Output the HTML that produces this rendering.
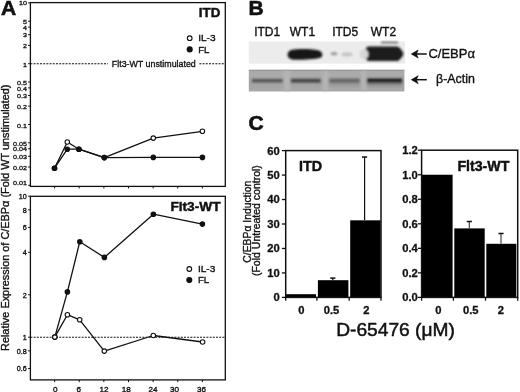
<!DOCTYPE html>
<html><head><meta charset="utf-8"><title>Figure</title>
<style>
html,body{margin:0;padding:0;background:#fff;overflow:hidden;}
svg{display:block;}
svg text{font-family:"Liberation Sans", Arial, sans-serif;fill:#111;}
svg text.t{stroke:#111;stroke-width:0.35px;}
svg text.b{stroke:#111;stroke-width:0.3px;}
svg text.h{stroke:#111;stroke-width:0.45px;}
svg text.pl{stroke:#111;stroke-width:0.6px;}
svg text.t2{stroke:#111;stroke-width:0.5px;}
</style></head>
<body>
<svg width="520" height="392" viewBox="0 0 520 392">
<text x="0.9" y="15.3" font-size="21" font-weight="bold" class="pl">A</text>
<rect x="30.4" y="2.6" width="194.9" height="183.8" fill="none" stroke="#111" stroke-width="1.3"/>
<line x1="28.099999999999998" x2="30.4" y1="2.9" y2="2.9" stroke="#111" stroke-width="1"/>
<text transform="translate(27,4.8) scale(1,0.86)" font-size="7.2" text-anchor="end" class="t">10</text>
<line x1="28.099999999999998" x2="30.4" y1="21.2" y2="21.2" stroke="#111" stroke-width="1"/>
<text transform="translate(27,24.2) scale(1,0.86)" font-size="7.2" text-anchor="end" class="t">5</text>
<line x1="28.099999999999998" x2="30.4" y1="27.09" y2="27.09" stroke="#111" stroke-width="1"/>
<text transform="translate(27,29.59) scale(1,0.86)" font-size="7.2" text-anchor="end" class="t">4</text>
<line x1="28.099999999999998" x2="30.4" y1="34.69" y2="34.69" stroke="#111" stroke-width="1"/>
<text transform="translate(27,37.49) scale(1,0.86)" font-size="7.2" text-anchor="end" class="t">3</text>
<line x1="28.099999999999998" x2="30.4" y1="45.4" y2="45.4" stroke="#111" stroke-width="1"/>
<text transform="translate(27,48.2) scale(1,0.86)" font-size="7.2" text-anchor="end" class="t">2</text>
<line x1="28.099999999999998" x2="30.4" y1="63.7" y2="63.7" stroke="#111" stroke-width="1"/>
<text transform="translate(27,66.5) scale(1,0.86)" font-size="7.2" text-anchor="end" class="t">1</text>
<line x1="28.099999999999998" x2="30.4" y1="82" y2="82" stroke="#111" stroke-width="1"/>
<text transform="translate(27,85.3) scale(1,0.86)" font-size="7.2" text-anchor="end" class="t">0.5</text>
<line x1="28.099999999999998" x2="30.4" y1="87.89" y2="87.89" stroke="#111" stroke-width="1"/>
<text transform="translate(27,90.69) scale(1,0.86)" font-size="7.2" text-anchor="end" class="t">0.4</text>
<line x1="28.099999999999998" x2="30.4" y1="95.49" y2="95.49" stroke="#111" stroke-width="1"/>
<text transform="translate(27,98.29) scale(1,0.86)" font-size="7.2" text-anchor="end" class="t">0.3</text>
<line x1="28.099999999999998" x2="30.4" y1="106.2" y2="106.2" stroke="#111" stroke-width="1"/>
<text transform="translate(27,109) scale(1,0.86)" font-size="7.2" text-anchor="end" class="t">0.2</text>
<line x1="28.099999999999998" x2="30.4" y1="124.5" y2="124.5" stroke="#111" stroke-width="1"/>
<text transform="translate(27,127.9) scale(1,0.86)" font-size="7.2" text-anchor="end" class="t">0.1</text>
<line x1="28.099999999999998" x2="30.4" y1="142.8" y2="142.8" stroke="#111" stroke-width="1"/>
<text transform="translate(27,145.6) scale(1,0.86)" font-size="7.2" text-anchor="end" class="t">0.05</text>
<line x1="28.099999999999998" x2="30.4" y1="148.69" y2="148.69" stroke="#111" stroke-width="1"/>
<text transform="translate(27,151.49) scale(1,0.86)" font-size="7.2" text-anchor="end" class="t">0.04</text>
<line x1="28.099999999999998" x2="30.4" y1="156.29" y2="156.29" stroke="#111" stroke-width="1"/>
<text transform="translate(27,159.09) scale(1,0.86)" font-size="7.2" text-anchor="end" class="t">0.03</text>
<line x1="28.099999999999998" x2="30.4" y1="167" y2="167" stroke="#111" stroke-width="1"/>
<text transform="translate(27,169.8) scale(1,0.86)" font-size="7.2" text-anchor="end" class="t">0.02</text>
<line x1="28.099999999999998" x2="30.4" y1="185.3" y2="185.3" stroke="#111" stroke-width="1"/>
<text transform="translate(27,185.4) scale(1,0.86)" font-size="7.2" text-anchor="end" class="t">0.01</text>
<line x1="54.6" x2="54.6" y1="186.4" y2="188.4" stroke="#111" stroke-width="1"/>
<line x1="79.23" x2="79.23" y1="186.4" y2="188.4" stroke="#111" stroke-width="1"/>
<line x1="103.86" x2="103.86" y1="186.4" y2="188.4" stroke="#111" stroke-width="1"/>
<line x1="128.49" x2="128.49" y1="186.4" y2="188.4" stroke="#111" stroke-width="1"/>
<line x1="153.12" x2="153.12" y1="186.4" y2="188.4" stroke="#111" stroke-width="1"/>
<line x1="177.75" x2="177.75" y1="186.4" y2="188.4" stroke="#111" stroke-width="1"/>
<line x1="202.38" x2="202.38" y1="186.4" y2="188.4" stroke="#111" stroke-width="1"/>
<line x1="30.4" x2="108" y1="63.7" y2="63.7" stroke="#111" stroke-width="1.1" stroke-dasharray="2,1.2"/>
<line x1="199.4" x2="225.3" y1="63.7" y2="63.7" stroke="#111" stroke-width="1.1" stroke-dasharray="2,1.2"/>
<text x="111.8" y="66.6" font-size="9.6" textLength="84" lengthAdjust="spacingAndGlyphs" class="t">Flt3-WT unstimulated</text>
<text x="198.8" y="17.4" font-size="13.4" font-weight="bold" class="h">ITD</text>
<circle cx="189.7" cy="38.2" r="2.35" fill="#fff" stroke="#111" stroke-width="1.1"/>
<text x="198.2" y="41.1" font-size="9.7" class="t" textLength="17.4" lengthAdjust="spacingAndGlyphs">IL-3</text>
<circle cx="189.7" cy="49.4" r="3.05" fill="#111"/>
<text x="198.2" y="52.6" font-size="9.7" class="t" textLength="11.2" lengthAdjust="spacingAndGlyphs">FL</text>
<polyline points="54.5,168.2 67.3,142 78.9,149.2 104.3,157.6 153.3,138.1 202.4,131.3" fill="none" stroke="#111" stroke-width="1.3" stroke-linejoin="round"/>
<polyline points="54.5,168.2 67.3,149.2 78.9,149.2 104.3,157.6 153.3,157.4 202.4,157.4" fill="none" stroke="#111" stroke-width="1.3" stroke-linejoin="round"/>
<circle cx="54.5" cy="168.2" r="2.25" fill="#fff" stroke="#111" stroke-width="1.1"/>
<circle cx="67.3" cy="142" r="2.25" fill="#fff" stroke="#111" stroke-width="1.1"/>
<circle cx="78.9" cy="149.2" r="2.25" fill="#fff" stroke="#111" stroke-width="1.1"/>
<circle cx="104.3" cy="157.6" r="2.25" fill="#fff" stroke="#111" stroke-width="1.1"/>
<circle cx="153.3" cy="138.1" r="2.25" fill="#fff" stroke="#111" stroke-width="1.1"/>
<circle cx="202.4" cy="131.3" r="2.25" fill="#fff" stroke="#111" stroke-width="1.1"/>
<circle cx="54.5" cy="168.2" r="2.8" fill="#111"/>
<circle cx="67.3" cy="149.2" r="2.8" fill="#111"/>
<circle cx="78.9" cy="149.2" r="2.8" fill="#111"/>
<circle cx="104.3" cy="157.6" r="2.8" fill="#111"/>
<circle cx="153.3" cy="157.4" r="2.8" fill="#111"/>
<circle cx="202.4" cy="157.4" r="2.8" fill="#111"/>
<rect x="30.4" y="196.3" width="194.9" height="183.59999999999997" fill="none" stroke="#111" stroke-width="1.3"/>
<line x1="28.099999999999998" x2="30.4" y1="196.2" y2="196.2" stroke="#111" stroke-width="1"/>
<text transform="translate(26.8,199.2) scale(0.95,0.92)" font-size="7.6" text-anchor="end" class="t">10</text>
<line x1="28.099999999999998" x2="30.4" y1="209.86" y2="209.86" stroke="#111" stroke-width="1"/>
<text transform="translate(26.8,212.86) scale(0.95,0.92)" font-size="7.6" text-anchor="end" class="t">8</text>
<line x1="28.099999999999998" x2="30.4" y1="227.48" y2="227.48" stroke="#111" stroke-width="1"/>
<text transform="translate(26.8,230.48) scale(0.95,0.92)" font-size="7.6" text-anchor="end" class="t">6</text>
<line x1="28.099999999999998" x2="30.4" y1="252.31" y2="252.31" stroke="#111" stroke-width="1"/>
<text transform="translate(26.8,255.31) scale(0.95,0.92)" font-size="7.6" text-anchor="end" class="t">4</text>
<line x1="28.099999999999998" x2="30.4" y1="294.75" y2="294.75" stroke="#111" stroke-width="1"/>
<text transform="translate(26.8,297.75) scale(0.95,0.92)" font-size="7.6" text-anchor="end" class="t">2</text>
<line x1="28.099999999999998" x2="30.4" y1="337.2" y2="337.2" stroke="#111" stroke-width="1"/>
<text transform="translate(26.8,340.2) scale(0.95,0.92)" font-size="7.6" text-anchor="end" class="t">1</text>
<line x1="28.099999999999998" x2="30.4" y1="350.86" y2="350.86" stroke="#111" stroke-width="1"/>
<text transform="translate(26.8,353.86) scale(0.95,0.92)" font-size="7.6" text-anchor="end" class="t">0.8</text>
<line x1="28.099999999999998" x2="30.4" y1="368.48" y2="368.48" stroke="#111" stroke-width="1"/>
<text transform="translate(26.8,371.48) scale(0.95,0.92)" font-size="7.6" text-anchor="end" class="t">0.6</text>
<line x1="54.6" x2="54.6" y1="379.9" y2="382.09999999999997" stroke="#111" stroke-width="1"/>
<text x="55.2" y="392.2" font-size="8.1" text-anchor="middle" class="t">0</text>
<line x1="79.23" x2="79.23" y1="379.9" y2="382.09999999999997" stroke="#111" stroke-width="1"/>
<text x="78.8" y="392.2" font-size="8.1" text-anchor="middle" class="t">6</text>
<line x1="103.86" x2="103.86" y1="379.9" y2="382.09999999999997" stroke="#111" stroke-width="1"/>
<text x="104" y="392.2" font-size="8.1" text-anchor="middle" class="t">12</text>
<line x1="128.49" x2="128.49" y1="379.9" y2="382.09999999999997" stroke="#111" stroke-width="1"/>
<text x="126.3" y="392.2" font-size="8.1" text-anchor="middle" class="t">18</text>
<line x1="153.12" x2="153.12" y1="379.9" y2="382.09999999999997" stroke="#111" stroke-width="1"/>
<text x="153" y="392.2" font-size="8.1" text-anchor="middle" class="t">24</text>
<line x1="177.75" x2="177.75" y1="379.9" y2="382.09999999999997" stroke="#111" stroke-width="1"/>
<text x="174.6" y="392.2" font-size="8.1" text-anchor="middle" class="t">30</text>
<line x1="202.38" x2="202.38" y1="379.9" y2="382.09999999999997" stroke="#111" stroke-width="1"/>
<text x="201.5" y="392.2" font-size="8.1" text-anchor="middle" class="t">36</text>
<line x1="30.4" x2="225.3" y1="337.2" y2="337.2" stroke="#111" stroke-width="1.1" stroke-dasharray="2,1.2"/>
<text x="170.4" y="210.5" font-size="13.7" font-weight="bold" class="h">Flt3-WT</text>
<circle cx="189.3" cy="269.0" r="2.35" fill="#fff" stroke="#111" stroke-width="1.1"/>
<text x="197.9" y="272.2" font-size="9.7" class="t" textLength="17.4" lengthAdjust="spacingAndGlyphs">IL-3</text>
<circle cx="189.3" cy="280.1" r="3.05" fill="#111"/>
<text x="197.9" y="283.4" font-size="9.7" class="t" textLength="11.2" lengthAdjust="spacingAndGlyphs">FL</text>
<polyline points="54.8,337.1 67.4,291.9 79.8,241.7 104.4,257.4 153.4,214.2 202.4,224.1" fill="none" stroke="#111" stroke-width="1.3" stroke-linejoin="round"/>
<polyline points="54.8,337.1 67.4,314.7 79.7,319.8 104.3,351.1 153.3,335.5 202.6,342" fill="none" stroke="#111" stroke-width="1.3" stroke-linejoin="round"/>
<circle cx="54.8" cy="337.1" r="2.8" fill="#111"/>
<circle cx="67.4" cy="291.9" r="2.8" fill="#111"/>
<circle cx="79.8" cy="241.7" r="2.8" fill="#111"/>
<circle cx="104.4" cy="257.4" r="2.8" fill="#111"/>
<circle cx="153.4" cy="214.2" r="2.8" fill="#111"/>
<circle cx="202.4" cy="224.1" r="2.8" fill="#111"/>
<circle cx="54.8" cy="337.1" r="2.25" fill="#fff" stroke="#111" stroke-width="1.1"/>
<circle cx="67.4" cy="314.7" r="2.25" fill="#fff" stroke="#111" stroke-width="1.1"/>
<circle cx="79.7" cy="319.8" r="2.25" fill="#fff" stroke="#111" stroke-width="1.1"/>
<circle cx="104.3" cy="351.1" r="2.25" fill="#fff" stroke="#111" stroke-width="1.1"/>
<circle cx="153.3" cy="335.5" r="2.25" fill="#fff" stroke="#111" stroke-width="1.1"/>
<circle cx="202.6" cy="342" r="2.25" fill="#fff" stroke="#111" stroke-width="1.1"/>
<text transform="translate(9.0,217.8) rotate(-90)" font-size="10.9" text-anchor="middle" class="t">Relative Expression of C/EBPα (Fold WT unstimulated)</text>
<text x="248.5" y="15.2" font-size="21" font-weight="bold" class="pl">B</text>
<text x="254.2" y="35.8" font-size="12" class="t">ITD1</text>
<text x="289.8" y="35.8" font-size="12" class="t">WT1</text>
<text x="332.2" y="35.8" font-size="12" class="t">ITD5</text>
<text x="370.8" y="35.8" font-size="12" class="t">WT2</text>
<defs><filter id="bl" x="-30%" y="-80%" width="160%" height="260%"><feGaussianBlur stdDeviation="1.1"/></filter><filter id="bl2" x="-30%" y="-80%" width="160%" height="260%"><feGaussianBlur stdDeviation="0.9"/></filter><filter id="bl4" x="-30%" y="-200%" width="160%" height="500%"><feGaussianBlur stdDeviation="0.7"/></filter><filter id="bl3" x="-30%" y="-30%" width="160%" height="160%"><feGaussianBlur stdDeviation="1.6"/></filter><linearGradient id="lg" x1="0" y1="0" x2="0" y2="1"><stop offset="0" stop-color="#a8a8a8"/><stop offset="0.2" stop-color="#acacac"/><stop offset="0.6" stop-color="#a2a2a2"/><stop offset="1" stop-color="#aaaaaa"/></linearGradient><linearGradient id="fg" x1="0" y1="0" x2="1" y2="0"><stop offset="0" stop-color="#bdbdbd" stop-opacity="0.9"/><stop offset="0.5" stop-color="#d4d4d4" stop-opacity="0.8"/><stop offset="1" stop-color="#c4c4c4" stop-opacity="0.9"/></linearGradient></defs>
<rect x="248.8" y="41.4" width="156.2" height="22.2" fill="#ececec"/>
<g filter="url(#bl)">
<path d="M292,49.8 C298,48.6 312,49 318,50.2 C322.2,51.2 323.2,54.5 321.6,57 C318,59.4 300,60.2 292,59.4 C286.2,58.4 285.8,51.2 292,49.8 Z" fill="#181818"/>
<path d="M369,46.6 L397.5,46.6 C399.5,47.1 403.4,52 403.4,53.9 C403.4,55.8 399.5,60.5 397.5,60.9 L369,60.9 C366,60.7 364.8,58 364.8,53.8 C364.8,49.6 366,46.8 369,46.6 Z" fill="#1c1c1c"/>
<ellipse cx="334" cy="53.8" rx="3.4" ry="1.7" fill="#9c9c9c"/>
<ellipse cx="347" cy="54.4" rx="6" ry="2.1" fill="#c6c6c6"/>
<ellipse cx="364" cy="54.3" rx="4.5" ry="5" fill="#d6d6d6"/>

</g>
<rect x="381" y="41.6" width="17" height="1.8" fill="#6a6a6a" filter="url(#bl)"/>
<rect x="248.8" y="69.8" width="155.6" height="21.7" fill="url(#lg)"/>
<rect x="248.8" y="69.8" width="155.6" height="1.1" fill="#969696"/>
<g filter="url(#bl3)">
<rect x="283.8" y="71" width="6.399999999999977" height="19.5" fill="#b6b6b6"/>
<rect x="322.8" y="71" width="5.399999999999977" height="19.5" fill="#b6b6b6"/>
<rect x="361.2" y="71" width="5.0" height="19.5" fill="#b6b6b6"/>
<rect x="329" y="81" width="31" height="5" fill="#999"/>
<rect x="367" y="81.8" width="35" height="3.6" fill="#7e7e7e"/>
</g>
<g filter="url(#bl2)">
<rect x="252" y="79.0" width="30.5" height="3.4" fill="#555"/>
<rect x="291" y="78.8" width="29.6" height="3.8" fill="#474747"/>
<rect x="329.5" y="78.6" width="30" height="4.2" fill="#686868"/>
<rect x="367.3" y="78.5" width="34.7" height="3.8" fill="#1e1e1e"/>
</g>
<line x1="412.5" x2="426.8" y1="54" y2="54" stroke="#111" stroke-width="1.5"/>
<path d="M411.3,54 L418.2,50 L416.4,54 L418.2,58 Z" fill="#111" stroke="#111" stroke-width="0.6" stroke-linejoin="round"/>
<line x1="412.5" x2="426.8" y1="79.7" y2="79.7" stroke="#111" stroke-width="1.5"/>
<path d="M411.3,79.7 L418.2,75.7 L416.4,79.7 L418.2,83.7 Z" fill="#111" stroke="#111" stroke-width="0.6" stroke-linejoin="round"/>
<text x="428.4" y="57.9" font-size="13" class="t">C/EBPα</text>
<text x="436.0" y="82.7" font-size="12.4" class="t">β-Actin</text>
<text x="248.4" y="130.2" font-size="21" font-weight="bold" class="pl">C</text>
<rect x="285.7" y="294.2" width="30.3" height="3.2" fill="#000"/>
<rect x="317.9" y="280.2" width="30.5" height="17.2" fill="#000"/>
<rect x="350.2" y="220.33" width="30.4" height="77.07" fill="#000"/>
<line x1="332.8" x2="332.8" y1="278.1" y2="280.2" stroke="#111" stroke-width="1.2"/>
<line x1="330.2" x2="335.40000000000003" y1="278.1" y2="278.1" stroke="#111" stroke-width="1.5"/>
<line x1="364.6" x2="364.6" y1="157" y2="220.33" stroke="#111" stroke-width="1.2"/>
<line x1="362.0" x2="367.20000000000005" y1="157" y2="157" stroke="#111" stroke-width="1.5"/>
<rect x="285.7" y="150.6" width="95.30000000000001" height="146.79999999999998" fill="none" stroke="#111" stroke-width="1.5"/>
<line x1="281.9" x2="285.7" y1="297.4" y2="297.4" stroke="#111" stroke-width="1.3"/>
<text x="279.8" y="301.3" font-size="11.2" font-weight="bold" text-anchor="end" class="b">0</text>
<line x1="281.9" x2="285.7" y1="272.93" y2="272.93" stroke="#111" stroke-width="1.3"/>
<text x="279.8" y="276.83" font-size="11.2" font-weight="bold" text-anchor="end" class="b">10</text>
<line x1="281.9" x2="285.7" y1="248.47" y2="248.47" stroke="#111" stroke-width="1.3"/>
<text x="279.8" y="252.37" font-size="11.2" font-weight="bold" text-anchor="end" class="b">20</text>
<line x1="281.9" x2="285.7" y1="224" y2="224" stroke="#111" stroke-width="1.3"/>
<text x="279.8" y="227.9" font-size="11.2" font-weight="bold" text-anchor="end" class="b">30</text>
<line x1="281.9" x2="285.7" y1="199.53" y2="199.53" stroke="#111" stroke-width="1.3"/>
<text x="279.8" y="203.43" font-size="11.2" font-weight="bold" text-anchor="end" class="b">40</text>
<line x1="281.9" x2="285.7" y1="175.07" y2="175.07" stroke="#111" stroke-width="1.3"/>
<text x="279.8" y="178.97" font-size="11.2" font-weight="bold" text-anchor="end" class="b">50</text>
<line x1="281.9" x2="285.7" y1="150.6" y2="150.6" stroke="#111" stroke-width="1.3"/>
<text x="279.8" y="154.5" font-size="11.2" font-weight="bold" text-anchor="end" class="b">60</text>
<line x1="285.7" x2="285.7" y1="297.4" y2="300.7" stroke="#111" stroke-width="1.3"/>
<line x1="316.9" x2="316.9" y1="297.4" y2="300.7" stroke="#111" stroke-width="1.3"/>
<line x1="349.2" x2="349.2" y1="297.4" y2="300.7" stroke="#111" stroke-width="1.3"/>
<line x1="381.0" x2="381.0" y1="297.4" y2="300.7" stroke="#111" stroke-width="1.3"/>
<text x="301.4" y="313.9" font-size="11.2" font-weight="bold" text-anchor="middle" class="b">0</text>
<text x="331.5" y="313.9" font-size="11.2" font-weight="bold" text-anchor="middle" class="b">0.5</text>
<text x="366.4" y="313.9" font-size="11.2" font-weight="bold" text-anchor="middle" class="b">2</text>
<text x="299.0" y="171.4" font-size="14.3" font-weight="bold" class="h">ITD</text>
<rect x="421.6" y="174.73" width="31" height="122.67" fill="#000"/>
<rect x="454.3" y="228.4" width="30.4" height="69" fill="#000"/>
<rect x="486.3" y="243.8" width="30" height="53.6" fill="#000"/>
<line x1="469.3" x2="469.3" y1="221.5" y2="228.4" stroke="#333" stroke-width="1.1"/>
<line x1="466.7" x2="471.90000000000003" y1="221.5" y2="221.5" stroke="#111" stroke-width="1.5"/>
<line x1="501.0" x2="501.0" y1="233.5" y2="243.8" stroke="#333" stroke-width="1.1"/>
<line x1="498.4" x2="503.6" y1="233.5" y2="233.5" stroke="#111" stroke-width="1.5"/>
<rect x="421.6" y="150.2" width="96.10000000000002" height="147.2" fill="none" stroke="#111" stroke-width="1.5"/>
<line x1="417.8" x2="421.6" y1="297.4" y2="297.4" stroke="#111" stroke-width="1.3"/>
<text x="417.8" y="301.3" font-size="11.2" font-weight="bold" text-anchor="end" class="b">0.0</text>
<line x1="417.8" x2="421.6" y1="272.87" y2="272.87" stroke="#111" stroke-width="1.3"/>
<text x="417.8" y="276.77" font-size="11.2" font-weight="bold" text-anchor="end" class="b">0.2</text>
<line x1="417.8" x2="421.6" y1="248.33" y2="248.33" stroke="#111" stroke-width="1.3"/>
<text x="417.8" y="252.23" font-size="11.2" font-weight="bold" text-anchor="end" class="b">0.4</text>
<line x1="417.8" x2="421.6" y1="223.8" y2="223.8" stroke="#111" stroke-width="1.3"/>
<text x="417.8" y="227.7" font-size="11.2" font-weight="bold" text-anchor="end" class="b">0.6</text>
<line x1="417.8" x2="421.6" y1="199.27" y2="199.27" stroke="#111" stroke-width="1.3"/>
<text x="417.8" y="203.17" font-size="11.2" font-weight="bold" text-anchor="end" class="b">0.8</text>
<line x1="417.8" x2="421.6" y1="174.73" y2="174.73" stroke="#111" stroke-width="1.3"/>
<text x="417.8" y="178.63" font-size="11.2" font-weight="bold" text-anchor="end" class="b">1.0</text>
<line x1="417.8" x2="421.6" y1="150.2" y2="150.2" stroke="#111" stroke-width="1.3"/>
<text x="417.8" y="154.1" font-size="11.2" font-weight="bold" text-anchor="end" class="b">1.2</text>
<line x1="421.6" x2="421.6" y1="297.4" y2="300.7" stroke="#111" stroke-width="1.3"/>
<line x1="453.4" x2="453.4" y1="297.4" y2="300.7" stroke="#111" stroke-width="1.3"/>
<line x1="485.5" x2="485.5" y1="297.4" y2="300.7" stroke="#111" stroke-width="1.3"/>
<line x1="517.7" x2="517.7" y1="297.4" y2="300.7" stroke="#111" stroke-width="1.3"/>
<text x="438.3" y="313.8" font-size="11.2" font-weight="bold" text-anchor="middle" class="b">0</text>
<text x="470.7" y="313.8" font-size="11.2" font-weight="bold" text-anchor="middle" class="b">0.5</text>
<text x="500.8" y="313.8" font-size="11.2" font-weight="bold" text-anchor="middle" class="b">2</text>
<text x="457.4" y="171.4" font-size="14.2" font-weight="bold" class="h">Flt3-WT</text>
<text transform="translate(250.5,221.7) rotate(-90)" font-size="10.35" text-anchor="middle" class="t">C/EBPα Induction</text>
<text transform="translate(259.6,220.6) rotate(-90)" font-size="10.5" text-anchor="middle" class="t">(Fold Untreated control)</text>
<text x="336.2" y="335.8" font-size="19.2" class="t2">D-65476 (μM)</text>
</svg>
</body></html>
